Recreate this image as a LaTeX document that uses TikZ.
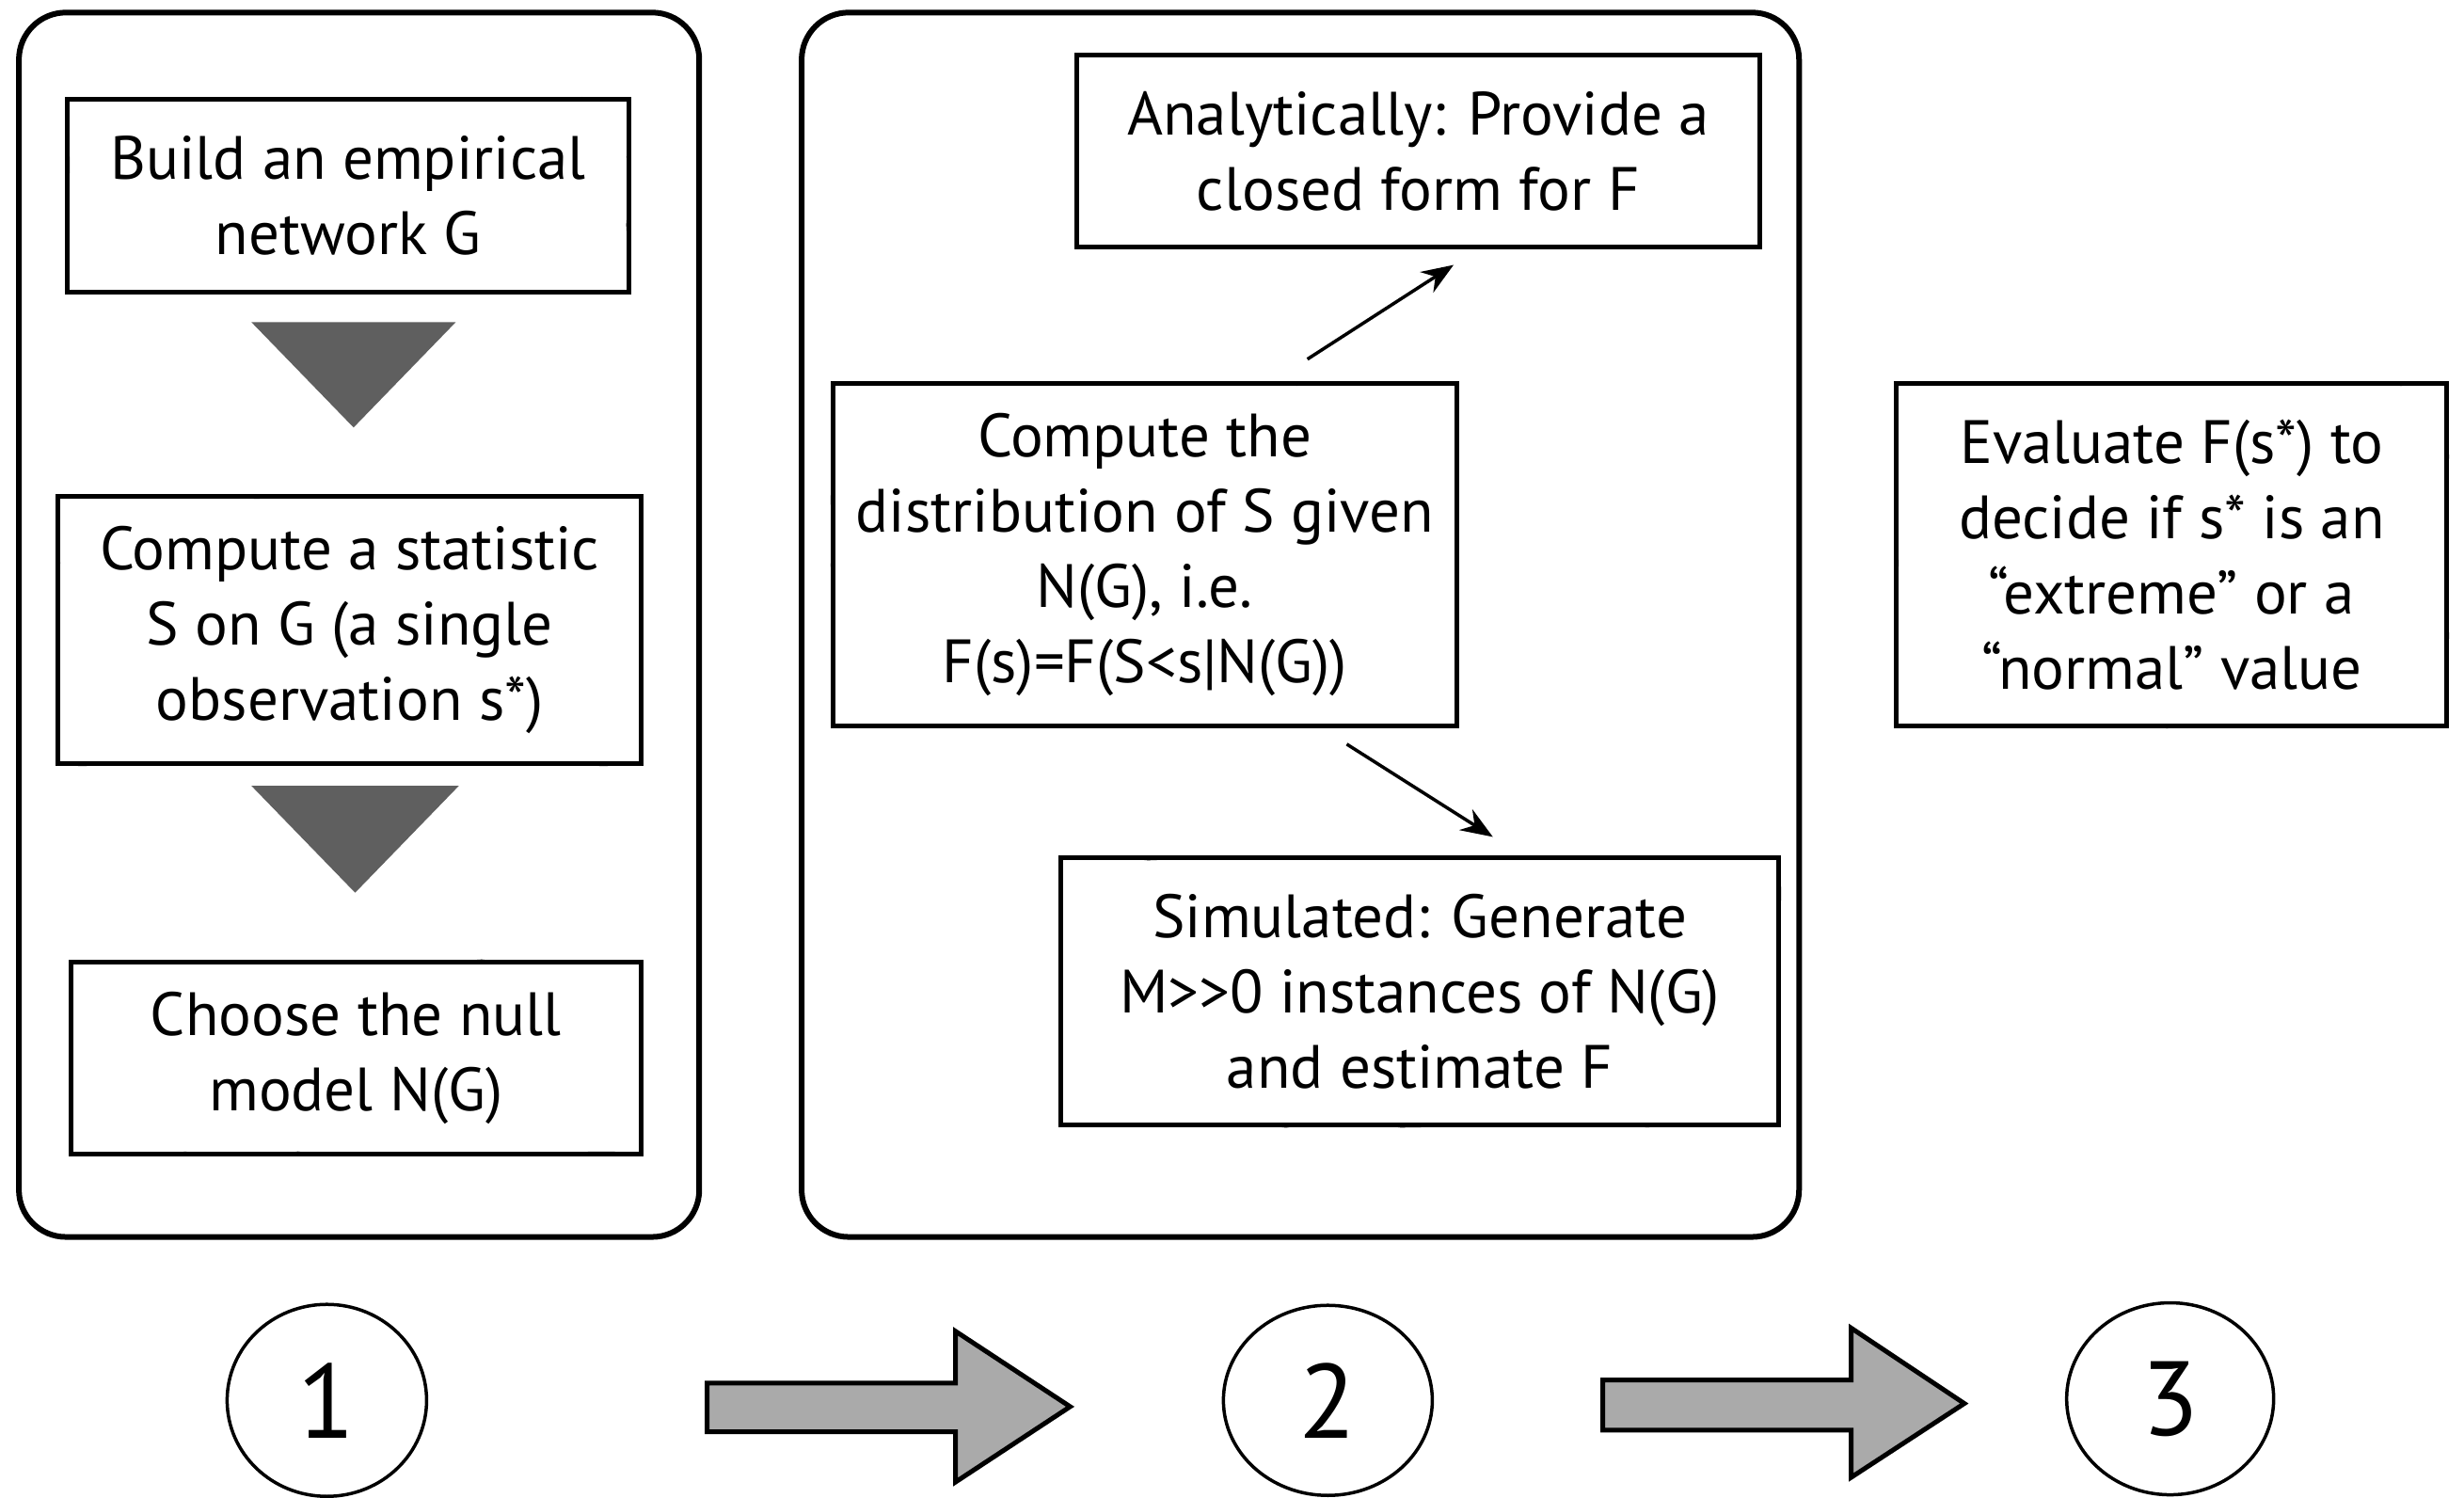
\documentclass[tikz,border=0pt]{standalone}
\usepackage{fontspec}
\setmainfont{PT Sans}
\usetikzlibrary{shapes.geometric,calc,decorations.pathmorphing,arrows.meta}
\definecolor{tri}{HTML}{5F5F5F}
\definecolor{barrow}{HTML}{AAAAAA}
\begin{document}
\begin{tikzpicture}[x=1.670pt,y=-1.670pt,
  txt/.style={font=\fontsize{65}{80}\selectfont, align=center},
  sketch/.style={postaction={draw, decorate, decoration={random steps,segment length=24pt,amplitude=1.8pt}, line width=1.3pt}},
  sbox/.style={rectangle, draw, line width=5pt, inner sep=0pt, txt, sketch},
  panel/.style={rectangle, draw, line width=6pt, rounded corners=50pt, inner sep=0pt},
  conn/.style={line width=3.5pt, -{Stealth[length=34pt,width=26pt]}},
  numc/.style={ellipse, draw, line width=3.5pt, inner sep=0pt, font=\fontsize{112}{120}\selectfont},
  blockarrow/.style={draw, fill=barrow, line width=5pt, line join=miter}
]
\pgfmathsetseed{7}
\useasboundingbox (0,0) rectangle (1568,953);

% panels
\node[panel, minimum width=723pt, minimum height=1301pt] (p1) at (228.5,397.5) {};
\node[panel, minimum width=1060pt, minimum height=1301pt] (p2) at (827.5,397.5) {};

% panel 1 boxes
\node[sbox, minimum width=596pt, minimum height=205pt] (A) at (221.5,124.5) {Build an empirical\\network G};
\node[sbox, minimum width=620pt, minimum height=284pt] (B) at (222.5,401) {Compute a statistic\\S on G (a single\\observation s*)};
\node[sbox, minimum width=606pt, minimum height=204pt] (C) at (226.5,673) {Choose the null\\model N(G)};
\fill[tri] (160,205) -- (290,205) -- (225,272) -- cycle;
\fill[tri] (160,500) -- (292,500) -- (226,568) -- cycle;

% panel 2 boxes
\node[sbox, minimum width=726pt, minimum height=204pt] (D) at (902.5,96) {Analytically: Provide a\\closed form for F};
\node[sbox, minimum width=663pt, minimum height=364pt] (E) at (728.5,353) {Compute the\\distribution of S given\\N(G), i.e.\\F(s)=F(S<s|N(G))};
\node[sbox, minimum width=763pt, minimum height=284pt] (F) at (903.5,631) {Simulated: Generate\\M>{}>0 instances of N(G)\\and estimate F};
\draw[conn] ($(E.north)+(103.5,-14)$) -- ($(D.south)+(22.5,10)$);
\draw[conn] ($(E.south)+(128.5,10)$) -- ($(F.north)+(46.5,-12)$);

% step 3 box
\node[sbox, minimum width=585pt, minimum height=364pt] (G) at (1382,353) {Evaluate F(s*) to\\decide if s* is an\\“extreme” or a\\“normal” value};

% numbered circles
\node[numc, minimum width=212pt, minimum height=204pt] (c1) at (208,891) {1};
\node[numc, minimum width=222pt, minimum height=202pt] (c2) at (845,891) {2};
\node[numc, minimum width=220pt, minimum height=204pt] (c3) at (1381,890) {3};

% block arrows
\draw[blockarrow] (450,880) -- (608,880) -- (608,847) -- (681,895) -- (608,943) -- (608,911) -- (450,911) -- cycle;
\draw[blockarrow] (1020,878) -- (1178,878) -- (1178,845) -- (1250,893) -- (1178,940) -- (1178,910) -- (1020,910) -- cycle;
\end{tikzpicture}
\end{document}
